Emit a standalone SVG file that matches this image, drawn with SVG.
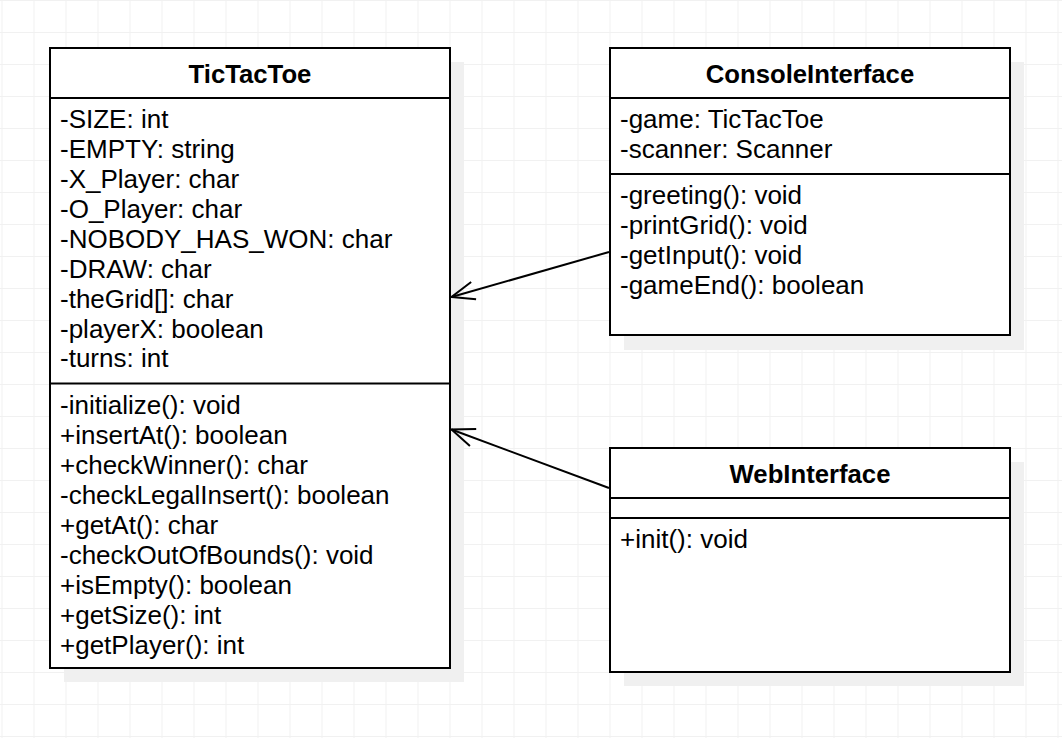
<svg xmlns="http://www.w3.org/2000/svg" width="1062" height="738" viewBox="0 0 1062 738">
<defs>
<pattern id="grid" x="1.5" y="0" width="32" height="32" patternUnits="userSpaceOnUse">
<path d="M0.5 0 V32 M0 0.5 H32" fill="none" stroke="#f1f1f1" stroke-width="1"/>
</pattern>
<marker id="open" markerUnits="userSpaceOnUse" markerWidth="30" markerHeight="30" refX="0" refY="0" viewBox="-26 -15 30 30" orient="auto" overflow="visible">
<path d="M-23,-9 L0,0 L-23,9" fill="none" stroke="#000" stroke-width="2"/>
</marker>
</defs>
<style>
.box{fill:#ffffff;stroke:#000000;stroke-width:2}
.sh{fill:#f0f0f0;stroke:none}
.sep{stroke:#000000;stroke-width:2}
.t{font-family:"Liberation Sans",Arial,sans-serif;font-size:26px;fill:#000}
.h{font-family:"Liberation Sans",Arial,sans-serif;font-size:25.7px;font-weight:bold;fill:#000;text-anchor:middle}
.edge{fill:none;stroke:#000;stroke-width:2}
</style>
<rect width="1062" height="738" fill="#ffffff"/>
<rect width="1062" height="738" fill="url(#grid)"/>

<g id="TicTacToe">
<rect class="sh" x="64" y="62" width="400" height="620"/>
<rect class="box" x="50" y="48" width="400" height="620"/>
<line class="sep" x1="50" y1="98" x2="450" y2="98"/>
<line class="sep" x1="50" y1="383.5" x2="450" y2="383.5"/>
<text class="h" x="250" y="82.5">TicTacToe</text>
<text class="t" x="60" y="127.5">-SIZE: int</text>
<text class="t" x="60" y="157.5">-EMPTY: string</text>
<text class="t" x="60" y="187.5">-X_Player: char</text>
<text class="t" x="60" y="217.5">-O_Player: char</text>
<text class="t" x="60" y="247.5">-NOBODY_HAS_WON: char</text>
<text class="t" x="60" y="277.5">-DRAW: char</text>
<text class="t" x="60" y="307.5">-theGrid[]: char</text>
<text class="t" x="60" y="337.5">-playerX: boolean</text>
<text class="t" x="60" y="367">-turns: int</text>
<text class="t" x="60" y="413.5">-initialize(): void</text>
<text class="t" x="60" y="443.5">+insertAt(): boolean</text>
<text class="t" x="60" y="473.5">+checkWinner(): char</text>
<text class="t" x="60" y="503.5">-checkLegalInsert(): boolean</text>
<text class="t" x="60" y="533.5">+getAt(): char</text>
<text class="t" x="60" y="563.5">-checkOutOfBounds(): void</text>
<text class="t" x="60" y="593.5">+isEmpty(): boolean</text>
<text class="t" x="60" y="623.5">+getSize(): int</text>
<text class="t" x="60" y="653.5">+getPlayer(): int</text>
</g>

<g id="ConsoleInterface">
<rect class="sh" x="624" y="62" width="400" height="288"/>
<rect class="box" x="610" y="48" width="400" height="287"/>
<line class="sep" x1="610" y1="98" x2="1010" y2="98"/>
<line class="sep" x1="610" y1="174" x2="1010" y2="174"/>
<text class="h" x="810" y="82.5">ConsoleInterface</text>
<text class="t" x="620" y="128">-game: TicTacToe</text>
<text class="t" x="620" y="158">-scanner: Scanner</text>
<text class="t" x="620" y="204">-greeting(): void</text>
<text class="t" x="620" y="234">-printGrid(): void</text>
<text class="t" x="620" y="264">-getInput(): void</text>
<text class="t" x="620" y="294">-gameEnd(): boolean</text>
</g>

<g id="WebInterface">
<rect class="sh" x="624" y="462" width="400" height="224"/>
<rect class="box" x="610" y="448" width="400" height="224"/>
<line class="sep" x1="610" y1="498" x2="1010" y2="498"/>
<line class="sep" x1="610" y1="518" x2="1010" y2="518"/>
<text class="h" x="810" y="482.5">WebInterface</text>
<text class="t" x="620" y="548">+init(): void</text>
</g>

<g id="connectors">
<path class="edge" d="M609,252 L451.5,297" marker-end="url(#open)"/>
<path class="edge" d="M609,488 L451.5,429.5" marker-end="url(#open)"/>
</g>
</svg>
